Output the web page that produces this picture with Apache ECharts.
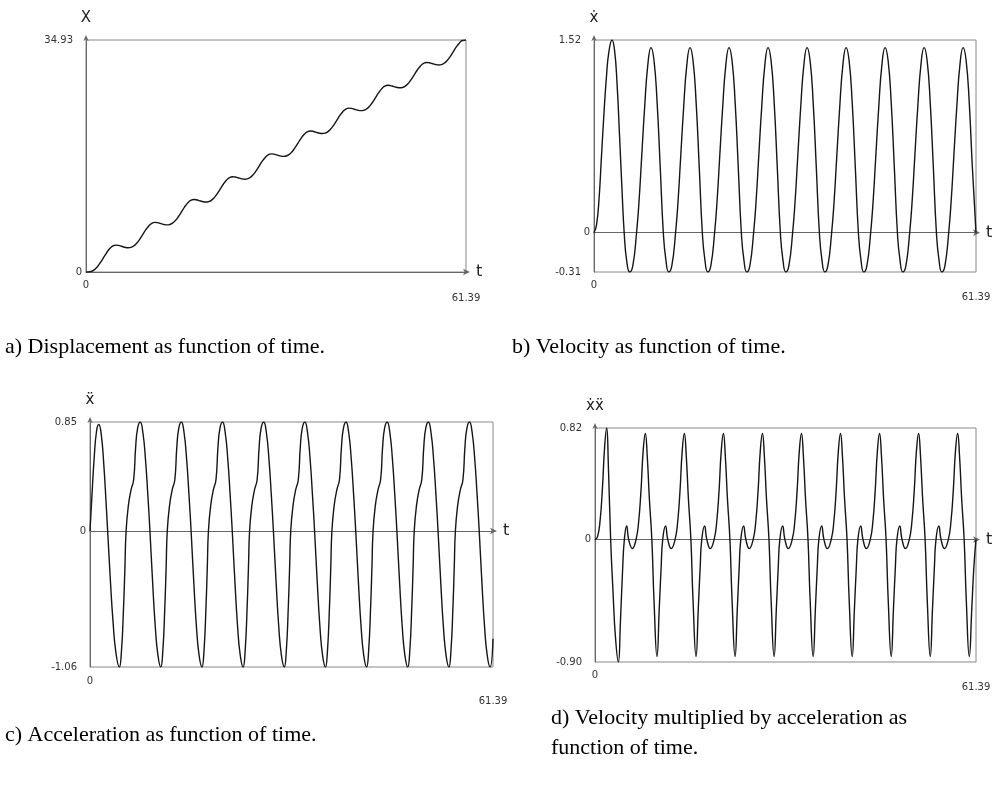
<!DOCTYPE html>
<html><head><meta charset="utf-8">
<script src="https://cdn.jsdelivr.net/npm/echarts@6/dist/echarts.min.js"></script>
<style>html,body{margin:0;padding:0;background:#fff}#c{width:996px;height:792px}</style>
</head><body><div id="c"></div><script>
const tMax = 61.39;
const xTicks = [0, 61.39];
const yTicksA = [0, 34.93];
const yTicksB = [-0.31, 0, 1.52];
const yTicksC = [-1.06, 0, 0.85];
const yTicksD = [-0.90, 0, 0.82];
const axisNames = ['X', '\u1E8B', '\u1E8D', '\u1E8B\u1E8D'];
const captions = [
  'a) Displacement as function of time.',
  'b) Velocity as function of time.',
  'c) Acceleration as function of time.',
  'd) Velocity multiplied by acceleration as\nfunction of time.'
];

const displacement = [
[0,0],[0.4,0.01],[0.8,0.08],[1.2,0.25],[1.6,0.56],[2.0,0.99],[2.4,1.52],[2.9,2.26],[3.3,2.85],[3.7,3.38],[4.1,3.77],[4.5,3.99],[4.85,4.05],[5.25,4.00],
[5.74,3.87],[6.24,3.73],[6.84,3.65],[7.24,3.70],[7.64,3.87],[8.14,4.28],[8.64,4.88],[9.16,5.63],[9.64,6.33],[10.14,6.93],[10.64,7.33],[11.14,7.47],[11.54,7.43],
[12.01,7.31],[12.51,7.17],[13.11,7.09],[13.51,7.14],[13.91,7.31],[14.41,7.72],[14.91,8.32],[15.43,9.07],[15.91,9.77],[16.41,10.37],[16.91,10.77],[17.41,10.91],[17.81,10.87],
[18.28,10.75],[18.78,10.61],[19.38,10.53],[19.78,10.58],[20.18,10.75],[20.68,11.16],[21.18,11.76],[21.70,12.51],[22.18,13.21],[22.68,13.81],[23.18,14.21],[23.68,14.35],[24.08,14.31],
[24.55,14.19],[25.05,14.05],[25.65,13.97],[26.05,14.02],[26.45,14.19],[26.95,14.60],[27.45,15.20],[27.97,15.95],[28.45,16.65],[28.95,17.25],[29.45,17.65],[29.95,17.79],[30.35,17.75],
[30.82,17.63],[31.32,17.49],[31.92,17.41],[32.32,17.46],[32.72,17.63],[33.22,18.04],[33.72,18.64],[34.24,19.39],[34.72,20.09],[35.22,20.69],[35.72,21.09],[36.22,21.23],[36.62,21.19],
[37.09,21.07],[37.59,20.93],[38.19,20.85],[38.59,20.90],[38.99,21.07],[39.49,21.48],[39.99,22.08],[40.51,22.83],[40.99,23.53],[41.49,24.13],[41.99,24.53],[42.49,24.67],[42.89,24.63],
[43.36,24.51],[43.86,24.37],[44.46,24.29],[44.86,24.34],[45.26,24.51],[45.76,24.92],[46.26,25.52],[46.78,26.27],[47.26,26.97],[47.76,27.57],[48.26,27.97],[48.76,28.11],[49.16,28.07],
[49.63,27.95],[50.13,27.81],[50.73,27.73],[51.13,27.78],[51.53,27.95],[52.03,28.36],[52.53,28.96],[53.05,29.71],[53.53,30.41],[54.03,31.01],[54.53,31.41],[55.03,31.55],[55.43,31.51],
[55.90,31.39],[56.40,31.25],[57.00,31.17],[57.40,31.22],[57.80,31.39],[58.30,31.80],[58.80,32.40],[59.32,33.15],[59.80,33.85],[60.30,34.45],[60.80,34.85],[61.39,34.93]
];

const velocity = [
[0,0],[0.4,0.06],[0.8,0.26],[1.2,0.6],[1.6,0.94],[2.0,1.23],[2.4,1.43],[2.9,1.52],[3.3,1.44],[3.7,1.18],[4.1,0.77],[4.5,0.34],[4.85,0],[5.25,-0.22],
[5.74,-0.31],[6.24,-0.26],[6.84,0],[7.24,0.25],[7.64,0.58],[8.14,0.99],[8.64,1.32],[9.16,1.46],[9.64,1.36],[10.14,1.03],[10.64,0.52],[11.14,0],[11.54,-0.21],
[12.01,-0.31],[12.51,-0.26],[13.11,0],[13.51,0.25],[13.91,0.58],[14.41,0.99],[14.91,1.32],[15.43,1.46],[15.91,1.36],[16.41,1.03],[16.91,0.52],[17.41,0],[17.81,-0.21],
[18.28,-0.31],[18.78,-0.26],[19.38,0],[19.78,0.25],[20.18,0.58],[20.68,0.99],[21.18,1.32],[21.70,1.46],[22.18,1.36],[22.68,1.03],[23.18,0.52],[23.68,0],[24.08,-0.21],
[24.55,-0.31],[25.05,-0.26],[25.65,0],[26.05,0.25],[26.45,0.58],[26.95,0.99],[27.45,1.32],[27.97,1.46],[28.45,1.36],[28.95,1.03],[29.45,0.52],[29.95,0],[30.35,-0.21],
[30.82,-0.31],[31.32,-0.26],[31.92,0],[32.32,0.25],[32.72,0.58],[33.22,0.99],[33.72,1.32],[34.24,1.46],[34.72,1.36],[35.22,1.03],[35.72,0.52],[36.22,0],[36.62,-0.21],
[37.09,-0.31],[37.59,-0.26],[38.19,0],[38.59,0.25],[38.99,0.58],[39.49,0.99],[39.99,1.32],[40.51,1.46],[40.99,1.36],[41.49,1.03],[41.99,0.52],[42.49,0],[42.89,-0.21],
[43.36,-0.31],[43.86,-0.26],[44.46,0],[44.86,0.25],[45.26,0.58],[45.76,0.99],[46.26,1.32],[46.78,1.46],[47.26,1.36],[47.76,1.03],[48.26,0.52],[48.76,0],[49.16,-0.21],
[49.63,-0.31],[50.13,-0.26],[50.73,0],[51.13,0.25],[51.53,0.58],[52.03,0.99],[52.53,1.32],[53.05,1.46],[53.53,1.36],[54.03,1.03],[54.53,0.52],[55.03,0],[55.43,-0.21],
[55.90,-0.31],[56.40,-0.26],[57.00,0],[57.40,0.25],[57.80,0.58],[58.30,0.99],[58.80,1.32],[59.32,1.46],[59.80,1.36],[60.30,1.03],[60.80,0.52],[61.39,0]
];

const acceleration = [
[0,0],[0.3,0.28],[0.65,0.58],[1.0,0.78],[1.33,0.83],[1.7,0.76],[2.1,0.52],[2.45,0.22],[2.69,0],[3.1,-0.38],[3.5,-0.70],[3.95,-0.95],[4.47,-1.06],[4.8,-0.93],[5.1,-0.61],[5.3,-0.32],
[5.50,0],[5.85,0.2],[6.25,0.32],[6.65,0.40],[6.95,0.65],[7.25,0.80],[7.65,0.85],[8.05,0.77],[8.45,0.56],[8.80,0.29],[9.13,0],[9.55,-0.41],[9.95,-0.75],[10.35,-0.97],[10.78,-1.06],[11.10,-0.93],[11.40,-0.59],[11.60,-0.28],
[11.77,0],[12.12,0.2],[12.52,0.32],[12.92,0.40],[13.22,0.65],[13.52,0.80],[13.92,0.85],[14.32,0.77],[14.72,0.56],[15.07,0.29],[15.40,0],[15.82,-0.41],[16.22,-0.75],[16.62,-0.97],[17.05,-1.06],[17.37,-0.93],[17.67,-0.59],[17.87,-0.28],
[18.04,0],[18.39,0.2],[18.79,0.32],[19.19,0.40],[19.49,0.65],[19.79,0.80],[20.19,0.85],[20.59,0.77],[20.99,0.56],[21.34,0.29],[21.67,0],[22.09,-0.41],[22.49,-0.75],[22.89,-0.97],[23.32,-1.06],[23.64,-0.93],[23.94,-0.59],[24.14,-0.28],
[24.31,0],[24.66,0.2],[25.06,0.32],[25.46,0.40],[25.76,0.65],[26.06,0.80],[26.46,0.85],[26.86,0.77],[27.26,0.56],[27.61,0.29],[27.94,0],[28.36,-0.41],[28.76,-0.75],[29.16,-0.97],[29.59,-1.06],[29.91,-0.93],[30.21,-0.59],[30.41,-0.28],
[30.58,0],[30.93,0.2],[31.33,0.32],[31.73,0.40],[32.03,0.65],[32.33,0.80],[32.73,0.85],[33.13,0.77],[33.53,0.56],[33.88,0.29],[34.21,0],[34.63,-0.41],[35.03,-0.75],[35.43,-0.97],[35.86,-1.06],[36.18,-0.93],[36.48,-0.59],[36.68,-0.28],
[36.85,0],[37.20,0.2],[37.60,0.32],[38.00,0.40],[38.30,0.65],[38.60,0.80],[39.00,0.85],[39.40,0.77],[39.80,0.56],[40.15,0.29],[40.48,0],[40.90,-0.41],[41.30,-0.75],[41.70,-0.97],[42.13,-1.06],[42.45,-0.93],[42.75,-0.59],[42.95,-0.28],
[43.12,0],[43.47,0.2],[43.87,0.32],[44.27,0.40],[44.57,0.65],[44.87,0.80],[45.27,0.85],[45.67,0.77],[46.07,0.56],[46.42,0.29],[46.75,0],[47.17,-0.41],[47.57,-0.75],[47.97,-0.97],[48.40,-1.06],[48.72,-0.93],[49.02,-0.59],[49.22,-0.28],
[49.39,0],[49.74,0.2],[50.14,0.32],[50.54,0.40],[50.84,0.65],[51.14,0.80],[51.54,0.85],[51.94,0.77],[52.34,0.56],[52.69,0.29],[53.02,0],[53.44,-0.41],[53.84,-0.75],[54.24,-0.97],[54.67,-1.06],[54.99,-0.93],[55.29,-0.59],[55.49,-0.28],
[55.66,0],[56.01,0.2],[56.41,0.32],[56.81,0.40],[57.11,0.65],[57.41,0.80],[57.81,0.85],[58.21,0.77],[58.61,0.56],[58.96,0.29],[59.29,0],[59.71,-0.41],[60.11,-0.75],[60.51,-0.97],[60.94,-1.06],[61.39,-0.84]
];

const velocityTimesAcceleration = [
[0,0],[0.4,0.02],[0.8,0.13],[1.2,0.38],[1.55,0.68],[1.88,0.82],[2.15,0.55],[2.52,0],[2.9,-0.38],[3.3,-0.72],[3.76,-0.90],[4.1,-0.6],[4.45,-0.22],[4.73,0],[5.1,0.10],[5.43,0],[6.02,-0.066],
[6.61,0],[7.01,0.12],[7.41,0.36],[7.76,0.65],[8.11,0.78],[8.41,0.62],[8.76,0.30],[9.16,0],[9.51,-0.45],[9.99,-0.86],[10.36,-0.5],[10.66,-0.2],[10.91,0],[11.36,0.10],[11.73,0],[12.29,-0.066],
[12.90,0],[13.30,0.12],[13.70,0.36],[14.05,0.65],[14.40,0.78],[14.70,0.62],[15.05,0.30],[15.45,0],[15.80,-0.45],[16.28,-0.86],[16.65,-0.5],[16.95,-0.2],[17.20,0],[17.65,0.10],[18.02,0],[18.58,-0.066],
[19.19,0],[19.59,0.12],[19.99,0.36],[20.34,0.65],[20.69,0.78],[20.99,0.62],[21.34,0.30],[21.74,0],[22.09,-0.45],[22.57,-0.86],[22.94,-0.5],[23.24,-0.2],[23.49,0],[23.94,0.10],[24.31,0],[24.87,-0.066],
[25.48,0],[25.88,0.12],[26.28,0.36],[26.63,0.65],[26.98,0.78],[27.28,0.62],[27.63,0.30],[28.03,0],[28.38,-0.45],[28.86,-0.86],[29.23,-0.5],[29.53,-0.2],[29.78,0],[30.23,0.10],[30.60,0],[31.16,-0.066],
[31.77,0],[32.17,0.12],[32.57,0.36],[32.92,0.65],[33.27,0.78],[33.57,0.62],[33.92,0.30],[34.32,0],[34.67,-0.45],[35.15,-0.86],[35.52,-0.5],[35.82,-0.2],[36.07,0],[36.52,0.10],[36.89,0],[37.45,-0.066],
[38.06,0],[38.46,0.12],[38.86,0.36],[39.21,0.65],[39.56,0.78],[39.86,0.62],[40.21,0.30],[40.61,0],[40.96,-0.45],[41.44,-0.86],[41.81,-0.5],[42.11,-0.2],[42.36,0],[42.81,0.10],[43.18,0],[43.74,-0.066],
[44.35,0],[44.75,0.12],[45.15,0.36],[45.50,0.65],[45.85,0.78],[46.15,0.62],[46.50,0.30],[46.90,0],[47.25,-0.45],[47.73,-0.86],[48.10,-0.5],[48.40,-0.2],[48.65,0],[49.10,0.10],[49.47,0],[50.03,-0.066],
[50.64,0],[51.04,0.12],[51.44,0.36],[51.79,0.65],[52.14,0.78],[52.44,0.62],[52.79,0.30],[53.19,0],[53.54,-0.45],[54.02,-0.86],[54.39,-0.5],[54.69,-0.2],[54.94,0],[55.39,0.10],[55.76,0],[56.32,-0.066],
[56.93,0],[57.33,0.12],[57.73,0.36],[58.08,0.65],[58.43,0.78],[58.73,0.62],[59.08,0.30],[59.48,0],[59.83,-0.45],[60.31,-0.86],[60.72,-0.5],[61.05,-0.2],[61.39,0]
];

const seriesData = [displacement, velocity, acceleration, velocityTimesAcceleration];
const yTicks = [yTicksA, yTicksB, yTicksC, yTicksD];

const grids = [
  {left: 86, top: 40, width: 380, height: 232},
  {left: 594, top: 40, width: 382, height: 232},
  {left: 90, top: 422, width: 403, height: 245},
  {left: 595, top: 428, width: 381, height: 234}
];
const xLabelMargin = [8, 8, 9, 8];
const xMaxPad = [13, 12, 20, 12];
const tickFont = 'DejaVu Sans';
const axisColor = '#666';

const xAxes = [], yAxes = [], series = [];
grids.forEach((g, i) => {
  g.show = true; g.borderColor = '#888'; g.borderWidth = 1; g.backgroundColor = 'transparent';
  xAxes.push({
    gridIndex: i, type: 'value', min: 0, max: tMax, position: 'bottom',
    axisLine: {show: false, onZero: false}, axisTick: {show: false}, splitLine: {show: false},
    axisLabel: {
      customValues: xTicks, margin: xLabelMargin[i],
      formatter: v => v === 0 ? '{z|0}' : '{m|' + v.toFixed(2) + '}',
      rich: {
        z: {fontFamily: tickFont, fontSize: 10, color: '#333'},
        m: {fontFamily: tickFont, fontSize: 10, color: '#333', padding: [xMaxPad[i], 0, 0, 0]}
      }
    }
  });
  xAxes.push({
    gridIndex: i, type: 'value', min: 0, max: tMax,
    axisLine: {show: true, onZero: true, lineStyle: {color: axisColor, width: 1},
      symbol: ['none', 'arrow'], symbolSize: [5, 7], symbolOffset: [0, 4]},
    axisTick: {show: false}, axisLabel: {show: false}, splitLine: {show: false},
    name: 't', nameLocation: 'end', nameGap: 10,
    nameTextStyle: {fontFamily: tickFont, fontSize: 16, color: '#222', verticalAlign: 'middle'}
  });
  yAxes.push({
    gridIndex: i, type: 'value', min: yTicks[i][0], max: yTicks[i][yTicks[i].length - 1],
    axisLine: {show: true, onZero: false, lineStyle: {color: axisColor, width: 1},
      symbol: ['none', 'arrow'], symbolSize: [4, 6], symbolOffset: [0, 5]},
    axisTick: {show: false}, splitLine: {show: false},
    axisLabel: {
      customValues: yTicks[i], margin: 4,
      formatter: v => v === 0 ? '{z|0}' : '{n|' + v.toFixed(2) + '}',
      rich: {
        z: {fontFamily: tickFont, fontSize: 10, color: '#333'},
        n: {fontFamily: tickFont, fontSize: 10, color: '#333', padding: [0, 9, 0, 0]}
      }
    },
    name: axisNames[i], nameLocation: 'end', nameGap: 14,
    nameTextStyle: {fontFamily: tickFont, fontSize: 15, color: '#222', align: 'center'}
  });
  series.push({
    type: 'line', xAxisIndex: 2 * i, yAxisIndex: i, data: seriesData[i],
    showSymbol: false, smooth: 0.5, silent: true,
    lineStyle: {color: '#151515', width: 1.4}
  });
});

const capStyle = {fontFamily: 'Liberation Serif', fontSize: 22, fontWeight: 'normal', color: '#000', lineHeight: 30};
const titles = [
  {text: captions[0], left: 5, top: 332},
  {text: captions[1], left: 512, top: 332},
  {text: captions[2], left: 5, top: 720},
  {text: captions[3], left: 551, top: 703}
].map(t => Object.assign(t, {padding: 0, textStyle: capStyle}));

const chart = echarts.init(document.getElementById('c'), null, {renderer: 'canvas'});
chart.setOption({
  animation: false,
  backgroundColor: '#fff',
  title: titles,
  grid: grids,
  xAxis: xAxes,
  yAxis: yAxes,
  series: series
});
</script></body></html>
